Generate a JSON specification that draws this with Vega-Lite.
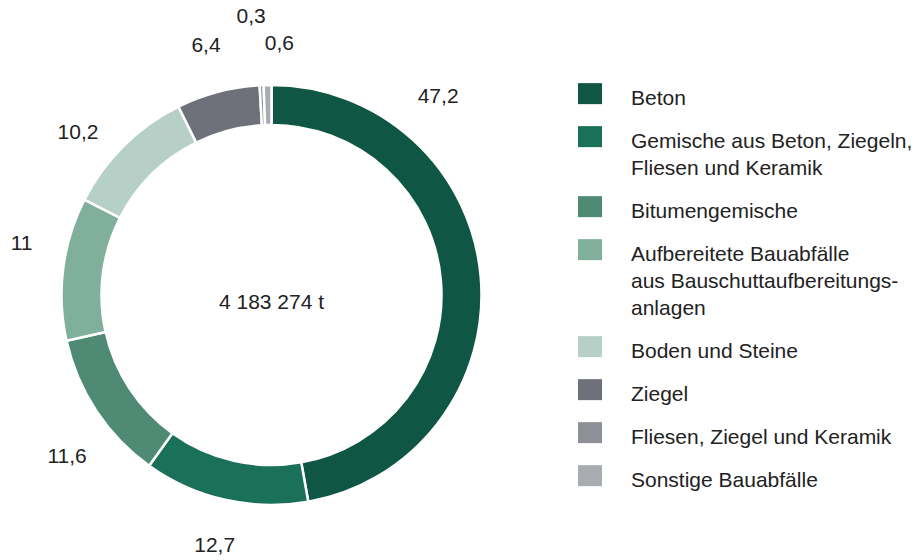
{
  "$schema": "https://vega.github.io/schema/vega-lite/v6.json",
  "width": 543,
  "height": 530,
  "autosize": {"type": "none"},
  "padding": {"left": 0, "top": 30, "right": 373, "bottom": 0},
  "background": "white",
  "config": {
    "view": {"stroke": null},
    "font": "Liberation Sans",
    "style": {"guide-label": {"lineHeight": 27}}
  },
  "data": {
    "values": [
      {"k": "Beton", "v": 47.2},
      {"k": "Gemische aus Beton, Ziegeln, Fliesen und Keramik", "v": 12.7},
      {"k": "Bitumengemische", "v": 11.6},
      {"k": "Aufbereitete Bauabfälle aus Bauschuttaufbereitungsanlagen", "v": 11},
      {"k": "Boden und Steine", "v": 10.2},
      {"k": "Ziegel", "v": 6.4},
      {"k": "Fliesen, Ziegel und Keramik", "v": 0.3},
      {"k": "Sonstige Bauabfälle", "v": 0.6}
    ]
  },
  "transform": [
    {"window": [{"op": "row_number", "as": "i"}]},
    {"stack": "v", "groupby": [], "sort": [{"field": "i", "order": "ascending"}], "as": ["v0", "v1"]},
    {"calculate": "(datum.v0 + datum.v1) / 2", "as": "mid"},
    {"calculate": "replace(toString(datum.v), '.', ',')", "as": "lbl"}
  ],
  "layer": [
    {
      "mark": {"type": "arc", "outerRadius": 210, "innerRadius": 170, "stroke": "white", "strokeWidth": 2.5},
      "encoding": {
        "theta": {"field": "v0", "type": "quantitative", "stack": null, "scale": {"domain": [0, 100], "range": [0, 6.283185307179586]}},
        "theta2": {"field": "v1"},
        "color": {
          "field": "k",
          "type": "nominal",
          "scale": {
            "domain": ["Beton", "Gemische aus Beton, Ziegeln, Fliesen und Keramik", "Bitumengemische", "Aufbereitete Bauabfälle aus Bauschuttaufbereitungsanlagen", "Boden und Steine", "Ziegel", "Fliesen, Ziegel und Keramik", "Sonstige Bauabfälle"],
            "range": ["#0f5644", "#1b705a", "#4e8a74", "#80b09c", "#b7d0c7", "#6e717a", "#8d9096", "#a8acb0"]
          },
          "legend": {
            "orient": "none",
            "legendX": 578,
            "legendY": 46,
            "title": null,
            "padding": 0,
            "symbolType": "M-1,-0.405H1V1.345H-1Z",
            "symbolSize": 576,
            "symbolStrokeWidth": 0,
            "labelFont": "Liberation Sans",
            "labelFontSize": 21,
            "labelColor": "#222222",
            "labelOffset": 29,
            "labelLimit": 400,
            "labelBaseline": "top",
            "rowPadding": 10,
            "labelExpr": "datum.label == 'Gemische aus Beton, Ziegeln, Fliesen und Keramik' ? ['Gemische aus Beton, Ziegeln,', 'Fliesen und Keramik'] : datum.label == 'Aufbereitete Bauabfälle aus Bauschuttaufbereitungsanlagen' ? ['Aufbereitete Bauabfälle', 'aus Bauschuttaufbereitungs-', 'anlagen'] : datum.label"
          }
        }
      }
    },
    {
      "transform": [{"filter": "datum.k == 'Beton'"}],
      "mark": {"type": "text", "radius": 259, "thetaOffset": -0.784, "fontSize": 21, "font": "Liberation Sans", "color": "#222222"},
      "encoding": {
        "theta": {"field": "mid", "type": "quantitative", "stack": null, "scale": {"domain": [0, 100], "range": [0, 6.283185307179586]}},
        "text": {"field": "lbl"}
      }
    },
    {
      "transform": [{"filter": "datum.k == 'Gemische aus Beton, Ziegeln, Fliesen und Keramik' || datum.k == 'Ziegel'"}],
      "mark": {"type": "text", "radius": 257, "fontSize": 21, "font": "Liberation Sans", "color": "#222222"},
      "encoding": {
        "theta": {"field": "mid", "type": "quantitative", "stack": null, "scale": {"domain": [0, 100], "range": [0, 6.283185307179586]}},
        "text": {"field": "lbl"}
      }
    },
    {
      "transform": [{"filter": "datum.k == 'Bitumengemische'"}],
      "mark": {"type": "text", "radius": 261, "thetaOffset": -0.087, "fontSize": 21, "font": "Liberation Sans", "color": "#222222"},
      "encoding": {
        "theta": {"field": "mid", "type": "quantitative", "stack": null, "scale": {"domain": [0, 100], "range": [0, 6.283185307179586]}},
        "text": {"field": "lbl"}
      }
    },
    {
      "transform": [{"filter": "datum.k == 'Aufbereitete Bauabfälle aus Bauschuttaufbereitungsanlagen'"}],
      "mark": {"type": "text", "radius": 255, "thetaOffset": 0.075, "fontSize": 21, "font": "Liberation Sans", "color": "#222222"},
      "encoding": {
        "theta": {"field": "mid", "type": "quantitative", "stack": null, "scale": {"domain": [0, 100], "range": [0, 6.283185307179586]}},
        "text": {"field": "lbl"}
      }
    },
    {
      "transform": [{"filter": "datum.k == 'Boden und Steine'"}],
      "mark": {"type": "text", "radius": 252, "thetaOffset": -0.096, "fontSize": 21, "font": "Liberation Sans", "color": "#222222"},
      "encoding": {
        "theta": {"field": "mid", "type": "quantitative", "stack": null, "scale": {"domain": [0, 100], "range": [0, 6.283185307179586]}},
        "text": {"field": "lbl"}
      }
    },
    {
      "transform": [{"filter": "datum.k == 'Fliesen, Ziegel und Keramik'"}],
      "mark": {"type": "text", "radius": 279, "thetaOffset": -0.026, "fontSize": 21, "font": "Liberation Sans", "color": "#222222"},
      "encoding": {
        "theta": {"field": "mid", "type": "quantitative", "stack": null, "scale": {"domain": [0, 100], "range": [0, 6.283185307179586]}},
        "text": {"field": "lbl"}
      }
    },
    {
      "transform": [{"filter": "datum.k == 'Sonstige Bauabfälle'"}],
      "mark": {"type": "text", "radius": 251, "thetaOffset": 0.05, "fontSize": 21, "font": "Liberation Sans", "color": "#222222"},
      "encoding": {
        "theta": {"field": "mid", "type": "quantitative", "stack": null, "scale": {"domain": [0, 100], "range": [0, 6.283185307179586]}},
        "text": {"field": "lbl"}
      }
    },
    {
      "data": {"values": [{"t": "4 183 274 t"}]},
      "mark": {"type": "text", "fontSize": 21, "dy": 8, "font": "Liberation Sans", "color": "#222222"},
      "encoding": {"text": {"field": "t"}}
    }
  ]
}
